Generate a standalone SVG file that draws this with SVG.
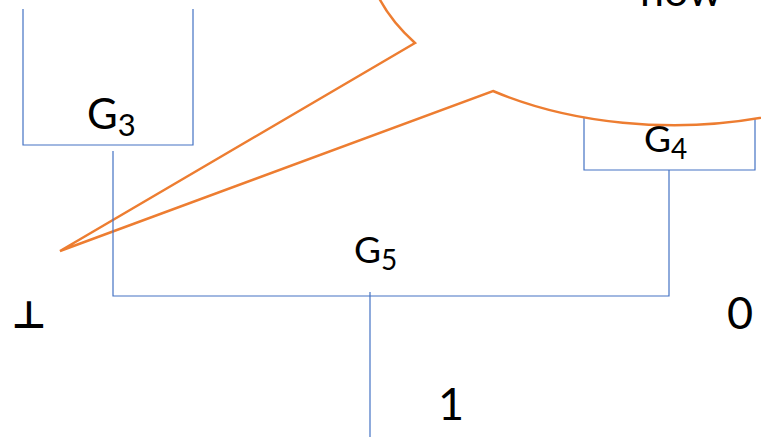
<svg xmlns="http://www.w3.org/2000/svg" width="761" height="441" viewBox="0 0 761 441">
<style>
.box{fill:none;stroke:#4472C4;stroke-width:1.2}
.wire{fill:none;stroke:#4472C4;stroke-width:1.2}
.lbl{font-family:Lato,"Liberation Sans",sans-serif;fill:#000}
.callout{fill:#fff;stroke:#ED7D31;stroke-width:2.5;stroke-linejoin:miter}
</style>
<rect width="761" height="441" fill="#fff"/>
<g id="G3">
<path class="box" d="M23,9 V145 H193 V9"/>
<text class="lbl" x="87" y="129" font-size="42">G<tspan font-size="31" dy="7">3</tspan></text>
</g>
<g id="G4">
<path class="box" d="M584,110 V170 H755 V110"/>
<text class="lbl" x="644" y="152" font-size="37">G<tspan font-size="28" dy="7">4</tspan></text>
</g>
<g id="callout">
<path class="callout" d="M415,43 L60,251 L493,91 A308 180 0 1 0 415,43 Z"/>
<text class="lbl" x="681" y="6" font-size="43" text-anchor="middle">now</text>
</g>
<g id="connectors">
<path class="wire" d="M113,151 V296 H669 V170"/>
<path class="wire" d="M370,292 V437"/>
</g>
<g id="G5">
<text class="lbl" x="354" y="263" font-size="37">G<tspan font-size="28" dy="7">5</tspan></text>
</g>
<g id="bottom">
<text x="29" y="328" font-size="38" font-family="'DejaVu Sans',sans-serif" font-weight="bold" text-anchor="middle">⊥</text>
</g>
<g id="zero">
<text class="lbl" x="740" y="329" font-size="45" text-anchor="middle">0</text>
</g>
<g id="one">
<text class="lbl" x="451" y="420" font-size="45" text-anchor="middle">1</text>
</g>
</svg>
